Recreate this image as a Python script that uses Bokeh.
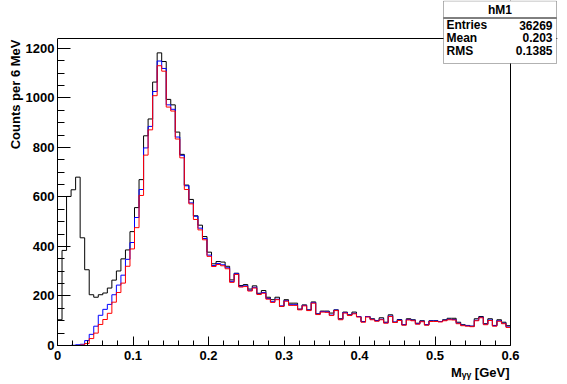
import numpy as np
from bokeh.plotting import figure
from bokeh.models import Range1d, FixedTicker, Label, PolyAnnotation, Arrow, Span, Title
from bokeh.embed import file_html
from bokeh.resources import INLINE

# ---- data ----
bin_low, bin_high = 0.0, 0.6
black_counts = [104, 384, 602, 629, 680, 435, 306, 205, 195, 205,
                212, 232, 264, 301, 350, 386, 460, 557, 670, 847,
                915, 1064, 1182, 1147, 994, 972, 862, 772, 648, 590,
                524, 486, 440, 377, 330, 339, 337, 320, 265, 292,
                242, 246, 228, 241, 211, 222, 195, 185, 195, 158,
                185, 171, 171, 147, 164, 144, 176, 128, 139, 139,
                131, 144, 108, 135, 124, 135, 117, 97, 117, 108,
                101, 112, 94, 124, 94, 105, 84, 108, 104, 90,
                100, 84, 100, 100, 97, 104, 110, 110, 94, 84,
                81, 78, 108, 117, 88, 108, 81, 104, 94, 80]
blue_counts = [0, 0, 0, 1, 3, 5, 20, 45, 78, 122,
               146, 166, 205, 244, 284, 348, 416, 517, 630, 798,
               885, 1026, 1149, 1119, 972, 954, 842, 768, 645, 576,
               522, 474, 432, 365, 323, 331, 326, 314, 259, 290,
               239, 241, 223, 235, 208, 214, 190, 177, 187, 160,
               181, 165, 165, 146, 162, 143, 173, 127, 137, 136,
               123, 143, 106, 133, 123, 130, 117, 96, 117, 106,
               100, 106, 92, 119, 95, 103, 84, 105, 102, 88,
               98, 84, 99, 99, 97, 102, 106, 105, 90, 82,
               80, 78, 102, 114, 86, 103, 80, 100, 90, 75]
red_counts = [0, 0, 0, 0, 0, 2, 8, 28, 50, 85,
              105, 130, 175, 214, 252, 320, 390, 476, 606, 769,
              871, 1009, 1130, 1108, 963, 947, 834, 758, 630, 572,
              509, 467, 427, 360, 319, 327, 322, 310, 255, 287,
              236, 238, 220, 232, 206, 211, 187, 174, 185, 158,
              179, 162, 162, 144, 160, 141, 171, 125, 135, 134,
              121, 141, 104, 131, 121, 128, 115, 94, 115, 104,
              98, 104, 90, 117, 93, 101, 82, 103, 100, 86,
              96, 82, 97, 97, 95, 100, 104, 103, 88, 80,
              78, 76, 100, 112, 84, 101, 78, 98, 88, 73]
x_ticks = [0.0, 0.1, 0.2, 0.3, 0.4, 0.5, 0.6]
x_tick_labels = ["0", "0.1", "0.2", "0.3", "0.4", "0.5", "0.6"]
y_ticks = [0, 200, 400, 600, 800, 1000, 1200]
y_max = 1240
x_title = "M\u1d67\u1d67 [GeV]"
y_title = "Counts per 6 MeV"
stats_title = "hM1"
stats_names = ["Entries", "Mean", "RMS"]
stats_values = ["36269", "0.203", "0.1385"]

# ---- layout (page pixels) ----
W, H = 567, 384
AX_L, AX_R, AX_T, AX_B = 57, 510, 38, 345   # axis box on page
FR_R, FR_T = 557, 0                          # extended frame (for stats box)

def dx(px):
    return bin_low + (px - AX_L) / (AX_R - AX_L) * (bin_high - bin_low)

def dy(py):
    return (AX_B - py) / (AX_B - AX_T) * y_max

p = figure(width=W, height=H, output_backend="svg", toolbar_location=None,
           x_range=Range1d(bin_low, dx(FR_R)), y_range=Range1d(0, dy(FR_T)),
           min_border_left=AX_L, min_border_right=W - FR_R,
           min_border_top=FR_T, min_border_bottom=H - AX_B)
p.background_fill_color = "white"
p.border_fill_color = "white"
p.outline_line_color = None
p.xgrid.grid_line_color = None
p.ygrid.grid_line_color = None

nb = len(black_counts)
edges = np.linspace(bin_low, bin_high, nb + 1)

for counts, col in [(black_counts, "black"), (blue_counts, "#0000ff"), (red_counts, "#ff0000")]:
    yv = list(counts) + [counts[-1]]
    p.step(edges, yv, mode="after", line_color=col, line_width=1)

# frame top and right edges
p.add_layout(Span(location=y_max, dimension="width", line_color="black", line_width=1))
p.add_layout(Span(location=bin_high, dimension="height", line_color="black", line_width=1))

minor_x = [round(v, 3) for v in np.arange(bin_low, bin_high + 1e-9, 0.02)]
minor_y = list(range(0, y_max, 50))
p.xaxis.ticker = FixedTicker(ticks=x_ticks, minor_ticks=minor_x)
p.yaxis.ticker = FixedTicker(ticks=y_ticks, minor_ticks=minor_y)
p.xaxis.major_label_overrides = {t: l for t, l in zip(x_ticks, x_tick_labels)}
p.xaxis.bounds = (bin_low, bin_high)
p.yaxis.bounds = (0, y_max)

font = "Liberation Sans"
for ax in p.axis:
    ax.axis_line_color = "black"
    ax.major_tick_line_color = "black"
    ax.minor_tick_line_color = "black"
    ax.major_tick_out = 0
    ax.minor_tick_out = 0
    ax.major_label_text_font = font
    ax.major_label_text_font_style = "bold"
    ax.major_label_text_font_size = "13px"
    ax.major_label_text_color = "black"
p.xaxis.major_tick_in = 9
p.xaxis.minor_tick_in = 5
p.xaxis.major_label_standoff = 5
p.yaxis.major_tick_in = 13
p.yaxis.minor_tick_in = 7
p.yaxis.major_label_standoff = 3

# axis titles (side panels, not clipped)
p.add_layout(Title(text=y_title, align="right", offset=(AX_T - FR_T) + 1, standoff=0,
                   text_font=font, text_font_style="bold", text_font_size="13px",
                   text_color="black"), "left")
p.add_layout(Title(text=x_title, align="right", offset=(FR_R - AX_R) + 1, standoff=0,
                   text_font=font, text_font_style="bold", text_font_size="13px",
                   text_color="black"), "below")

# stats box
bx0, bx1, by0, by1 = 443, 556, 0.5, 63
p.add_layout(PolyAnnotation(xs=[dx(bx0), dx(bx1), dx(bx1), dx(bx0)],
                            ys=[dy(by0), dy(by0), dy(by1), dy(by1)],
                            fill_color="white", fill_alpha=1.0,
                            line_color="black", line_width=1))
p.add_layout(Arrow(end=None, x_start=dx(bx0), y_start=dy(17.5), x_end=dx(bx1), y_end=dy(17.5),
                   line_color="black", line_width=1))
p.add_layout(Label(x=dx((bx0 + bx1) / 2), y=dy(9.5), text=stats_title, text_align="center",
                   text_baseline="middle", text_font=font, text_font_style="bold",
                   text_font_size="12px", text_color="black"))
for i, (nm, vv) in enumerate(zip(stats_names, stats_values)):
    yc = 24.5 + i * 12.8
    p.add_layout(Label(x=dx(446), y=dy(yc), text=nm, text_align="left",
                       text_baseline="middle", text_font=font, text_font_style="bold",
                       text_font_size="12px", text_color="black"))
    p.add_layout(Label(x=dx(552), y=dy(yc), text=vv, text_align="right",
                       text_baseline="middle", text_font=font, text_font_style="bold",
                       text_font_size="12px", text_color="black"))

open("out.html", "w").write(file_html(p, INLINE))
